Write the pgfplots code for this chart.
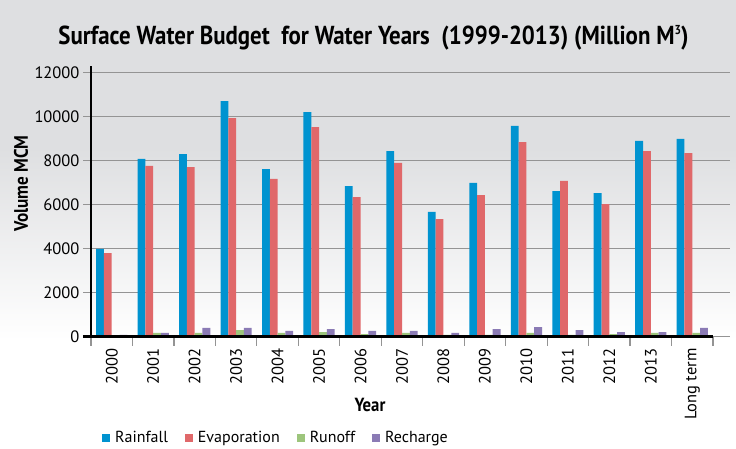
\documentclass[border=0pt]{standalone}
\usepackage{fontspec}
\setmainfont{PT Sans}
\newfontfamily\condfont{PT Sans}[FakeStretch=0.88]
\usepackage{pgfplots}
\usepackage{pgfplotstable}
\pgfplotsset{compat=1.18}
\definecolor{cRain}{HTML}{0093D0}
\definecolor{cEvap}{HTML}{E0686A}
\definecolor{cRun}{HTML}{9DC57C}
\definecolor{cRech}{HTML}{8B7BB5}
\definecolor{gridgray}{HTML}{949494}
\definecolor{bggray}{HTML}{DEDFE1}

\pgfplotstableread{
x rain evap run rech
0 3990 3800 50 80
1 8080 7760 170 170
2 8300 7710 170 400
3 10710 9940 300 400
4 7620 7170 170 260
5 10210 9530 210 350
6 6850 6350 120 260
7 8440 7900 170 260
8 5670 5350 80 170
9 6990 6440 80 350
10 9580 8850 170 440
11 6620 7080 80 300
12 6530 6030 120 210
13 8900 8440 170 210
14 8990 8350 170 400
}\datatable

\pgfplotsset{sqlegend/.style={legend image code/.code={\fill[##1] (0pt,-4.5pt) rectangle (8pt,4pt);}}}

\begin{document}
\begin{tikzpicture}[x=1pt,y=1pt]
\fill[bggray] (0,299.5) rectangle (736,448);
\shade[top color=bggray, bottom color=white] (0,108) rectangle (736,300);
\fill[white] (0,0) rectangle (736,108.5);

\node[font=\condfont\bfseries\fontsize{26}{28}\selectfont] at (373.5,410) {Surface Water Budget\ \ for Water Years\ \ (1999-2013) (Million M\raisebox{0.75ex}{\fontsize{13}{13}\selectfont 3})};
\node[font=\condfont\bfseries\fontsize{19.5}{21}\selectfont, rotate=90] at (21,264.5) {Volume MCM};
\node[font=\condfont\bfseries\fontsize{19}{21}\selectfont] at (370,43) {Year};

\begin{axis}[
  at={(91pt,111.3pt)}, anchor=south west,
  scale only axis, width=639pt, height=270.6pt,
  xmin=-0.5, xmax=14.91, ymin=0, ymax=12300,
  ybar=0pt, bar width=7.8pt,
  axis y line*=left, axis x line*=bottom,
  x axis line style={draw=none},
  y axis line style={black, line width=2pt},
  xtick={0,...,14},
  xticklabels={2000,2001,2002,2003,2004,2005,2006,2007,2008,2009,2010,2011,2012,2013,Long term},
  minor xtick={-0.5,0.5,...,14.5},
  ytick={0,2000,...,12000},
  scaled y ticks=false,
  ymajorgrids, grid style={gridgray, line width=1.5pt},
  tick align=outside, major tick length=8pt, minor tick length=9pt,
  major x tick style={draw=none},
  minor x tick style={gridgray, line width=1.2pt},
  ytick style={gridgray, line width=1.5pt},
  xticklabel style={rotate=90, anchor=east, font=\fontsize{16.5}{18}\selectfont},
  yticklabel style={font=\fontsize{16.5}{18}\selectfont},
  /pgf/number format/1000 sep={}, /pgf/number format/assume math mode=true,
  clip=false,
  legend style={at={(0.0172,-0.3725)}, anchor=west, draw=none, fill=none, inner sep=0pt,
    legend columns=4, font=\fontsize{16}{18}\selectfont,
    /tikz/every odd column/.append style={column sep=3pt},
    /tikz/every even column/.append style={column sep=15pt}},
  legend cell align=left,
]
\addplot[fill=cRain, draw=none, sqlegend] table[x=x,y=rain] {\datatable};
\addplot[fill=cEvap, draw=none, sqlegend] table[x=x,y=evap] {\datatable};
\addplot[fill=cRun, draw=none, sqlegend] table[x=x,y=run] {\datatable};
\addplot[fill=cRech, draw=none, sqlegend] table[x=x,y=rech] {\datatable};
\legend{Rainfall, Evaporation, Runoff, Recharge}
\draw[black, line width=2.7pt] (axis cs:-0.693,0) -- (axis cs:14.5,0);
\end{axis}
\pgfresetboundingbox
\useasboundingbox (0,0) rectangle (736,448);
\end{tikzpicture}
\end{document}
